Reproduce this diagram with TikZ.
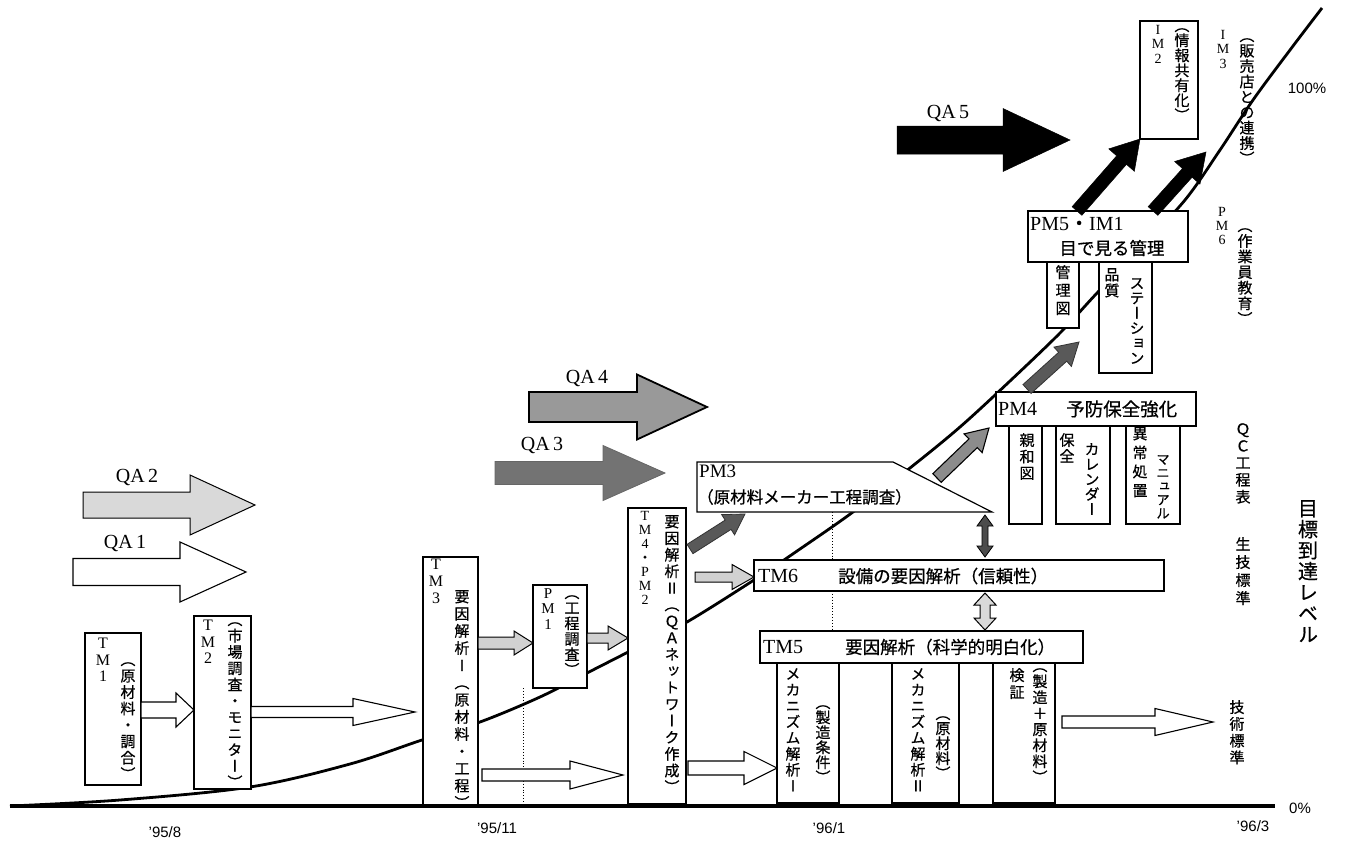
\documentclass[tikz,border=0pt]{standalone}
\usepackage{fontspec}
\setmainfont{Liberation Serif}
\newfontfamily\jp[FakeBold=0.6]{Noto Sans CJK JP}
\newfontfamily\vjp[RawFeature=+vert,FakeBold=0.6]{Noto Sans CJK JP}
\newfontfamily\sansf{Liberation Sans}
\usetikzlibrary{calc,arrows.meta}
\ExplSyntaxOn
\NewDocumentCommand\vt{O{16pt}m}{
  \vbox{\baselineskip=#1\relax\lineskiplimit=-\maxdimen
    \tl_map_inline:nn{#2}{\hbox_to_wd:nn{1em}{\hss##1\hss}}}}
\ExplSyntaxOff
% block arrow: [style]{start}{end}{shaft half}{head half}{head length}
\newcommand\barrow[6][]{%
  \path[#1] let \p1=(#2), \p2=(#3), \n1={atan2(\y2-\y1,\x2-\x1)}, \n2={veclen(\x2-\x1,\y2-\y1)} in
   ($(\p1)+(\n1+90:#4)$) -- ($(\p1)+(\n1:\n2-#6)+(\n1+90:#4)$) -- ($(\p1)+(\n1:\n2-#6)+(\n1+90:#5)$) -- (\p2)
   -- ($(\p1)+(\n1:\n2-#6)+(\n1-90:#5)$) -- ($(\p1)+(\n1:\n2-#6)+(\n1-90:#4)$) -- ($(\p1)+(\n1-90:#4)$) -- cycle;}
\begin{document}
\begin{tikzpicture}[x=1pt,y=-1pt,
  bx/.style={draw,line width=1.2pt,fill=white,inner sep=0pt,outer sep=0pt,anchor=north west},
  vtx/.style={inner sep=0pt,anchor=north,font=\vjp\fontsize{15}{15}\selectfont},
  ltx/.style={inner sep=0pt,anchor=north,font=\fontsize{16}{16}\selectfont},
  stx/.style={inner sep=0pt,anchor=north,font=\fontsize{14}{14}\selectfont},
  htx/.style={inner sep=0pt,anchor=west,font=\jp\fontsize{17.5}{17.5}\selectfont},
  lab/.style={inner sep=0pt,font=\fontsize{20}{20}\selectfont},
  dtx/.style={inner sep=0pt,font=\sansf\fontsize{15}{15}\selectfont},
  wa/.style={draw=black,line width=1.1pt,fill=white,line join=miter},
  ga/.style={draw=black,line width=1pt,fill=black!18},
  da/.style={draw=black!80,line width=0.8pt,fill=black!65},
  ma/.style={draw=black,line width=1.1pt,fill=black!45},
  ka/.style={draw=black,line width=0.5pt,fill=black},
  qa2/.style={draw=black,line width=1pt,fill=black!15},
  qa3/.style={draw=black!60,line width=0.8pt,fill=black!55},
  qa4/.style={draw=black,line width=1.8pt,fill=black!40}
]
\fill[white] (0,0) rectangle (1345,841);
\useasboundingbox (0,0) rectangle (1345,841);

% axis and curve
\coordinate (ax0) at (10,806);
\coordinate (ax1) at (1275,806);
\draw[line width=2.8pt] plot[smooth,tension=0.55] coordinates {(10,806) (120,800) (250,787) (350,764) (422,740) (480,722) (540,697) (587,673) (640,646) (687,622) (754,580) (800,549) (853,512) (910,468) (960,427) (1010,381) (1060,333) (1097,293) (1140,248) (1185,200) (1220,150) (1253,100) (1290,50) (1322,8)};
\draw[line width=4pt] (ax0) -- (ax1);

% boxes
\node[bx,minimum width=56pt,minimum height=152pt] (tm1) at (85,633) {};
\node[bx,minimum width=57pt,minimum height=173pt] (tm2) at (194,616) {};
\node[bx,minimum width=55pt,minimum height=248pt] (tm3) at (423,557) {};
\node[bx,minimum width=54pt,minimum height=103pt] (pm1) at (533,585) {};
\node[bx,minimum width=58pt,minimum height=296pt] (tm4) at (628,508) {};
\draw[line width=1.2pt,fill=white] (697,462) -- (893,462) -- (992,512) -- (697,512) -- cycle;
\coordinate (pm3b) at (832,512);
\node[bx,minimum width=410pt,minimum height=31pt] (tm6) at (754,560) {};
\node[bx,minimum width=323pt,minimum height=32pt] (tm5) at (760,631) {};
\node[bx,minimum width=62pt,minimum height=140pt] (m1) at (777,663) {};
\node[bx,minimum width=67pt,minimum height=140pt] (m2) at (892,663) {};
\node[bx,minimum width=62pt,minimum height=140pt] (m3) at (993,663) {};
\node[bx,minimum width=33pt,minimum height=98pt] (s1) at (1009,426) {};
\node[bx,minimum width=54pt,minimum height=98pt] (s2) at (1056,426) {};
\node[bx,minimum width=54pt,minimum height=98pt] (s3) at (1126,426) {};
\node[bx,minimum width=200pt,minimum height=34pt] (pm4) at (996,392) {};
\node[bx,minimum width=32pt,minimum height=66pt] (k1) at (1047,262) {};
\node[bx,minimum width=53pt,minimum height=111pt] (k2) at (1099,262) {};
\node[bx,minimum width=160pt,minimum height=51pt] (pm5) at (1028,211) {};
\node[bx,minimum width=58pt,minimum height=118pt] (im2) at (1140,21) {};
\draw[dotted,line width=0.9pt] (pm1.south -| 523,0) -- (ax0 -| 523,0);
\draw[dotted,line width=0.9pt] (pm3b) -- (tm6.north -| pm3b);
\draw[dotted,line width=0.9pt] (tm6.south -| pm3b) -- (tm5.north -| pm3b);

% free arrow ends
\coordinate (a23e) at (415,712);
\coordinate (a34e) at (623,775);
\coordinate (a46s) at (695,577);
\coordinate (a4p3s) at (690,549);
\coordinate (a4p3e) at (745,514);
\coordinate (a34s) at (937,478);
\coordinate (a34t) at (989,428);
\coordinate (a45s) at (1027,389);
\coordinate (a45e) at (1079,342);
\coordinate (b2e) at (1206,152);
\coordinate (axe) at (1213,722);

% QA arrows
\barrow[wa]{73,572}{246,572}{13.5pt}{30pt}{66pt}
\barrow[qa2]{83,505}{255,505}{13pt}{30pt}{65pt}
\barrow[qa3]{495,473}{665,473}{11.5pt}{27.5pt}{62pt}
\barrow[qa4]{529,407}{707,407}{15pt}{32.5pt}{70pt}
\barrow[ka]{897,140}{1070,140}{14pt}{31.5pt}{67pt}

% connectors
\barrow[wa]{tm1.east |- 0,710}{tm2.west |- 0,710}{8pt}{17pt}{18pt}
\barrow[wa]{tm2.east |- 0,712}{a23e}{5.5pt}{13.5pt}{62pt}
\barrow[ga]{tm3.east |- 0,643}{pm1.west |- 0,643}{6pt}{12pt}{19pt}
\barrow[ga]{pm1.east |- 0,638}{tm4.west |- 0,638}{5pt}{12pt}{20pt}
\barrow[wa]{$(tm3.east |- 0,775)+(4,0)$}{a34e}{6pt}{14pt}{53pt}
\barrow[wa]{$(tm4.east |- 0,768)+(2,0)$}{m1.west |- 0,768}{7pt}{16.5pt}{33pt}
\barrow[ga]{a46s}{tm6.west |- 0,577}{5pt}{12.5pt}{22pt}
\barrow[da]{a4p3s}{a4p3e}{5.5pt}{12pt}{20pt}
\barrow[ma]{a34s}{a34t}{6pt}{13pt}{22pt}
\barrow[da]{a45s}{a45e}{6pt}{13pt}{22pt}
\barrow[ka]{$(pm5.north west)+(49,0)$}{im2.south west}{6.5pt}{17pt}{28pt}
\barrow[ka]{$(pm5.north west)+(125,0)$}{b2e}{6.5pt}{17pt}{28pt}
\barrow[wa]{$(m3.east |- 0,722)+(7,0)$}{axe}{6pt}{13.5pt}{58pt}

% double arrows
\draw[draw=black,line width=0.8pt,fill=black!70] (985,515) -- (993,526) -- (988,526) -- (988,546) -- (993,546) -- (985,557) -- (977,546) -- (982,546) -- (982,526) -- (977,526) -- cycle;
\draw[draw=black,line width=1pt,fill=black!15] (985,593) -- (996,605) -- (990,605) -- (990,618) -- (996,618) -- (985,630) -- (974,618) -- (980,618) -- (980,605) -- (974,605) -- cycle;

% vertical texts
\node[ltx] at (103,638) {\vt[16.5pt]{TM1}};
\node[vtx] at (128,662) {\vt[16.4pt]{（原材料・調合）}};
\node[ltx] at (208,620) {\vt[16.5pt]{TM2}};
\node[vtx] at (235,622) {\vt[16.3pt]{（市場調査・モニター）}};
\node[ltx] at (436,559) {\vt[17pt]{TM3}};
\node[vtx] at (462,590) {\vt[17.2pt]{要因解析Ⅰ（原材料・工程）}};
\node[stx,font=\fontsize{15}{15}\selectfont] at (548,588) {\vt[15.5pt]{PM1}};
\node[vtx] at (572,595) {\vt[15.5pt]{（工程調査）}};
\node[stx] at (645,511) {\vt[14pt]{TM4{\jp ・}PM2}};
\node[vtx] at (672,515) {\vt[16.6pt]{要因解析Ⅱ（ＱＡネットワーク作成）}};
\node[vtx] at (793,668) {\vt[16pt]{メカニズム解析Ⅰ}};
\node[vtx] at (823,705) {\vt[15pt]{（製造条件）}};
\node[vtx] at (918,668) {\vt[16pt]{メカニズム解析Ⅱ}};
\node[vtx] at (943,716) {\vt[15pt]{（原材料）}};
\node[vtx] at (1017,668) {\vt[17pt]{検証}};
\node[vtx] at (1040,668) {\vt[16pt]{（製造＋原材料）}};
\node[vtx] at (1237,700) {\vt[16.8pt]{技術標準}};
\node[vtx] at (1243,423) {\vt[17pt]{ＱＣ工程表}};
\node[vtx] at (1243,537) {\vt[18pt]{生技標準}};
\node[vtx,font=\vjp\fontsize{20}{20}\selectfont] at (1308,500) {\vt[21pt]{目標到達レベル}};
\node[stx] at (1222,207) {\vt[14pt]{PM6}};
\node[vtx] at (1245,228) {\vt[15.6pt]{（作業員教育）}};
\node[stx] at (1223,30) {\vt[14.5pt]{IM3}};
\node[vtx] at (1247,38) {\vt[15.4pt]{（販売店との連携）}};
\node[stx] at (1158,25) {\vt[14.5pt]{IM2}};
\node[vtx] at (1182,28) {\vt[15pt]{（情報共有化）}};
\node[vtx] at (1063,265) {\vt[18pt]{管理図}};
\node[vtx] at (1112,268) {\vt[16pt]{品質}};
\node[vtx] at (1137,278) {\vt[15pt]{ステーション}};
\node[vtx] at (1027,433) {\vt[16.5pt]{親和図}};
\node[vtx] at (1067,433) {\vt[16pt]{保全}};
\node[vtx] at (1092,443) {\vt[15pt]{カレンダー}};
\node[vtx] at (1140,427) {\vt[19pt]{異常処置}};
\node[vtx,font=\vjp\fontsize{13.5}{13.5}\selectfont] at (1163,455) {\vt[13.5pt]{マニュアル}};

% horizontal texts
\node[lab,anchor=west,font=\fontsize{19}{19}\selectfont] at (699,471) {PM3};
\node[htx,font=\jp\fontsize{16.5}{16.5}\selectfont] at (697,497) {（原材料メーカー工程調査）};
\node[lab,anchor=west] at (758,576) {TM6};
\node[htx] at (838,576) {設備の要因解析（信頼性）};
\node[lab,anchor=west] at (763,647) {TM5};
\node[htx] at (845,647) {要因解析（科学的明白化）};
\node[lab,anchor=west] at (998,409) {PM4};
\node[htx,font=\jp\fontsize{18.5}{18.5}\selectfont] at (1066,409) {予防保全強化};
\node[lab,anchor=west] at (1030,224) {PM5{\jp ・}IM1};
\node[htx,anchor=center] at (1112,248) {目で見る管理};

% QA labels
\node[lab] at (125,543) {QA\,1};
\node[lab] at (137,477) {QA\,2};
\node[lab] at (542,445) {QA\,3};
\node[lab] at (587,378) {QA\,4};
\node[lab] at (948,113) {QA\,5};

% axis labels
\node[dtx] at (165,832) {’95/8};
\node[dtx] at (497,828) {’95/11};
\node[dtx] at (829,828) {’96/1};
\node[dtx] at (1253,826) {’96/3};
\node[dtx] at (1300,808) {0\%};
\node[dtx] at (1307,88) {100\%};
\end{tikzpicture}
\end{document}
